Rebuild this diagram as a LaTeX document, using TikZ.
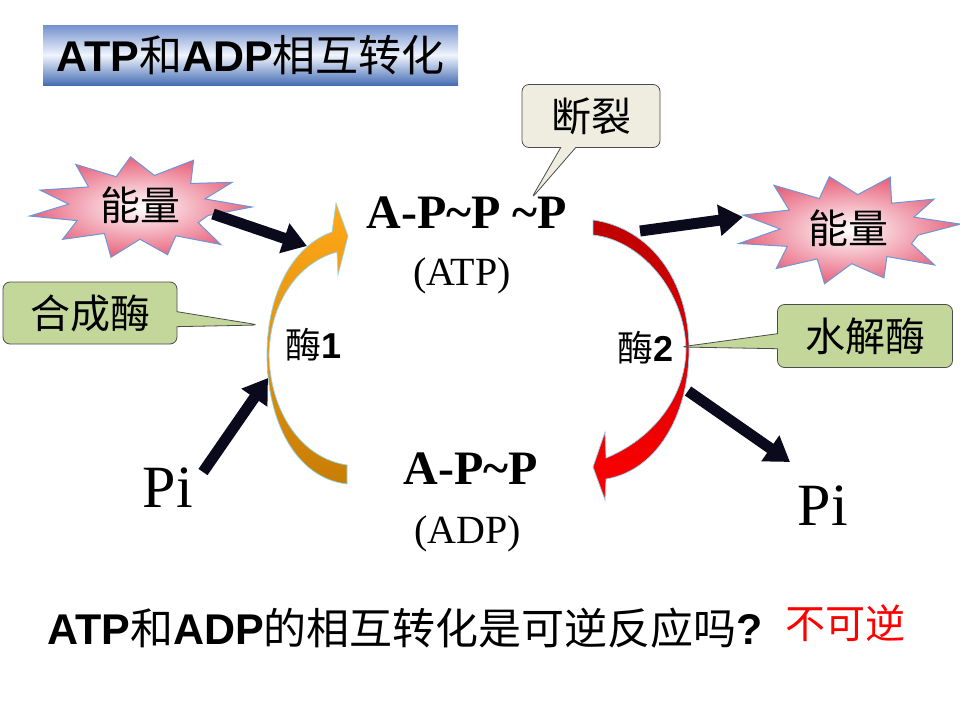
\documentclass[tikz,border=0pt]{standalone}
\usepackage{fontspec}
\setmainfont{Liberation Serif}
\setsansfont{Liberation Sans}
\newfontfamily\cjk{Noto Sans CJK SC}
\usetikzlibrary{arrows.meta,positioning,shapes.callouts}

\definecolor{callgreen}{RGB}{196,215,155}
\definecolor{callbeige}{RGB}{238,237,224}
\definecolor{burstpink}{RGB}{232,100,125}
\definecolor{burstline}{RGB}{110,150,215}
\definecolor{orangetop}{RGB}{255,168,25}
\definecolor{orangebot}{RGB}{200,125,5}
\definecolor{redtop}{RGB}{190,0,0}
\definecolor{redbot}{RGB}{255,0,0}
\definecolor{bannertop}{RGB}{115,145,205}
\definecolor{bannermid}{RGB}{240,244,252}
\definecolor{bannerbot}{RGB}{70,110,180}
\definecolor{arrowblk}{RGB}{10,10,28}

\newcommand{\zh}[1]{{\cjk #1}}
\newcommand{\lb}[1]{{\sffamily\bfseries #1}}

\begin{document}
\begin{tikzpicture}[
  x=1pt, y=-1pt,
  banner/.style={inner sep=0pt,minimum width=415pt,minimum height=60pt,top color=bannertop,bottom color=bannerbot,middle color=bannermid,font=\fontsize{43}{50}\selectfont},
  callbox/.style={rectangle callout,draw=black!70,line width=0.8pt,rounded corners=7pt,callout pointer width=15pt,inner sep=0pt,font=\fontsize{40}{48}\selectfont\cjk},
  burst/.style={draw=burstline,line width=1pt,inner color=white,outer color=burstpink},
  fatarr/.style={draw=arrowblk,line width=11pt,-{Triangle[length=24pt,width=30pt]}},
  zhtext/.style={font=\fontsize{40}{48}\selectfont\cjk,inner sep=0pt},
  enz/.style={font=\fontsize{36}{44}\selectfont\cjk,inner sep=0pt},
  formula/.style={font=\fontsize{48}{56}\selectfont\bfseries,inner sep=0pt},
  paren/.style={font=\fontsize{40}{48}\selectfont,inner sep=0pt},
  pitext/.style={font=\fontsize{60}{70}\selectfont,inner sep=0pt},
  arcedge/.style={draw=cyan!45,line width=0.7pt}
]
\useasboundingbox[fill=white] (0,0) rectangle (960,720);

% title
\node[banner] (title) at (250.5,55) {\lb{ATP}\zh{和}\lb{ADP}\zh{相互转化}};

% energy bursts
\begin{scope}[shift={(140,207)}]
\path[burst] (0:112pt and 52pt) \foreach \a/\r in {15/.6,30/.95,45/.64,62/1.02,78/.62,95/.97,110/.62,125/1.0,140/.6,160/.95,175/.64,190/1.0,205/.62,222/.93,238/.6,255/1.0,270/.62,285/.95,300/.64,315/1.02,330/.6,345/.63} { -- (\a:{\r*112pt} and {\r*52pt}) } -- cycle;
\end{scope}
\begin{scope}[shift={(848,229)}]
\path[burst] (5:113pt and 56pt) \foreach \a/\r in {20/.62,35/.93,50/.6,68/1.0,82/.62,100/.95,115/.6,130/1.02,147/.62,165/.96,180/.6,195/1.0,210/.62,228/.95,243/.6,258/1.0,273/.62,290/.93,305/.6,320/1.0,335/.62,350/.63} { -- (\a:{\r*113pt} and {\r*56pt}) } -- cycle;
\end{scope}
\node[zhtext] (energyL) at (140,205) {能量};
\node[zhtext] (energyR) at (848,228) {能量};

% reaction arcs
\path[shade,top color=orangetop,bottom color=orangebot,arcedge]
  (347,484) .. controls (295,478) and (267,420) .. (267,355)
  .. controls (267,290) and (295,245) .. (332,232) -- (336,203) -- (348,236) -- (338,275) -- (337,252)
  .. controls (300,262) and (270,300) .. (269,355)
  .. controls (270,410) and (300,458) .. (347,465) -- cycle;
\path[shade,top color=redtop,bottom color=redbot,arcedge]
  (593,220) .. controls (650,228) and (689,280) .. (689,350)
  .. controls (689,410) and (660,470) .. (606,479) -- (605,500) -- (593,467) -- (605,432) -- (606,458)
  .. controls (650,440) and (685,400) .. (686,350)
  .. controls (685,290) and (640,240) .. (593,235) -- cycle;

% molecules
\node[formula,anchor=base] (atp) at (467,228) {A-P\textasciitilde P \textasciitilde P};
\node[paren,anchor=base] (atplabel) at (462,285) {(ATP)};
\node[formula,anchor=base] (adp) at (471,484) {A-P\textasciitilde P};
\node[paren,anchor=base] (adplabel) at (468,543) {(ADP)};
\node[enz] (enzA) at (314,345) {酶\lb{1}};
\node[enz] (enzB) at (646,348) {酶\lb{2}};
\node[pitext] (piL) at (168,488) {Pi};
\node[pitext] (piR) at (823,506) {Pi};

% callouts
\node[callbox,fill=callgreen,minimum width=174pt,minimum height=62pt,callout absolute pointer={(259,325)}] (synth) at (90,313) {合成酶};
\node[callbox,fill=callgreen,minimum width=175pt,minimum height=63pt,callout absolute pointer={(680,347)}] (hydro) at (865,336) {水解酶};
\node[callbox,fill=callbeige,minimum width=138pt,minimum height=63pt,callout absolute pointer={(531,199)}] (crack) at (591,116) {断裂};

% fat arrows
\coordinate (inA) at (213,214); \coordinate (inAt) at (307,246);
\coordinate (inB) at (203,472); \coordinate (inBt) at (268,378);
\coordinate (outA) at (640,231); \coordinate (outAt) at (743,217);
\coordinate (outB) at (688,391); \coordinate (outBt) at (790,462);
\draw[fatarr] (inA)--(inAt); \draw[fatarr] (inB)--(inBt);
\draw[fatarr] (outA)--(outAt); \draw[fatarr] (outB)--(outBt);

% question
\node[anchor=west,inner sep=0pt,font=\fontsize{43}{50}\selectfont] (quest) at (47,628) {\lb{ATP}\zh{和}\lb{ADP}\zh{的相互转化是可逆反应吗}\lb{?}};
\node[zhtext,text=red] (answer) at (845,623) {不可逆};
\end{tikzpicture}
\end{document}
